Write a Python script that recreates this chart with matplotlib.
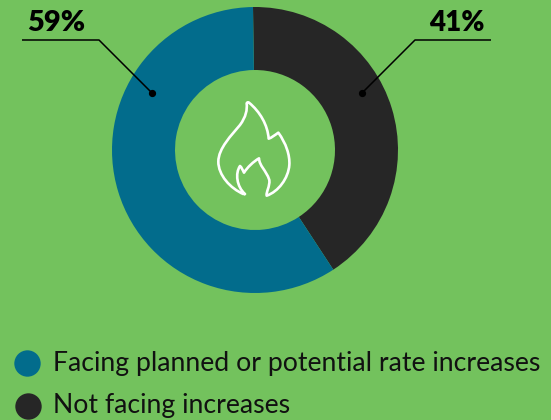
import matplotlib
matplotlib.use("Agg")
import matplotlib.pyplot as plt
from matplotlib.path import Path
from matplotlib.patches import PathPatch

labels = ["Not facing increases", "Facing planned or potential rate increases"]
values = [41, 59]
colors = ["#262626", "#026C8C"]
background = "#73C25D"

plt.rcParams["font.family"] = ["Lato", "DejaVu Sans"]

fig = plt.figure(figsize=(5.51, 4.20), dpi=100, facecolor=background)
ax = fig.add_axes([0, 0, 1, 1])

# Donut; the y axis runs downward, so angles are mirrored for a clockwise sweep from the top
wedges, _ = ax.pie(values, colors=colors, center=(255, 150), radius=143,
                   startangle=-90.8, counterclock=True, frame=True,
                   wedgeprops=dict(width=63, linewidth=0))
ax.set_xlim(0, 551)
ax.set_ylim(420, 0)
ax.set_aspect("equal")
ax.axis("off")

# Leader lines with dot ends
ax.plot([22, 99, 152], [40, 40, 93], color="black", lw=1.1, solid_capstyle="butt")
ax.plot([152], [93], "o", color="black", ms=4.2)
ax.plot([491, 415, 362], [40, 40, 93], color="black", lw=1.1, solid_capstyle="butt")
ax.plot([362], [93], "o", color="black", ms=4.2)

ax.text(56, 23, f"{values[1]}%", fontsize=21, fontweight="heavy", ha="center", va="center", color="black")
ax.text(457, 23, f"{values[0]}%", fontsize=20, fontweight="heavy", ha="center", va="center", color="black")


def icon_pt(x, y):
    return (190 + x / 3, 90 + y / 3)


# Flame icon in the donut hole, outlined in white
flame = [
    (162, 313),
    (120, 295), (85, 255), (85, 215),
    (85, 175), (125, 135), (150, 105),
    (168, 80), (172, 60), (170, 40),
    (173, 35), (175, 37), (177, 38),
    (210, 65), (233, 105), (236, 146),
    (245, 143), (255, 135), (265, 128),
    (288, 160), (300, 195), (298, 225),
    (295, 265), (265, 305), (230, 317),
    (228, 305), (240, 290), (238, 270),
    (228, 240), (208, 228), (207, 205),
    (190, 215), (172, 232), (162, 248),
    (158, 240), (155, 232), (150, 228),
    (135, 250), (140, 290), (165, 312),
    (164, 313), (163, 313), (162, 313),
]
codes = [Path.MOVETO] + [Path.CURVE4] * (len(flame) - 1)
ax.add_patch(PathPatch(Path([icon_pt(*p) for p in flame], codes), fill=False,
                       edgecolor="white", lw=1.9, joinstyle="round"))

# Legend rows
ax.plot([27], [363], "o", color=colors[1], ms=19, mew=0)
ax.plot([28], [406], "o", color=colors[0], ms=19, mew=0)
ax.text(53, 363, labels[1], fontsize=19.2, ha="left", va="center", color="#111111")
ax.text(53, 405, labels[0], fontsize=19.2, ha="left", va="center", color="#111111")

fig.savefig("out.png", dpi=100, facecolor=background)
